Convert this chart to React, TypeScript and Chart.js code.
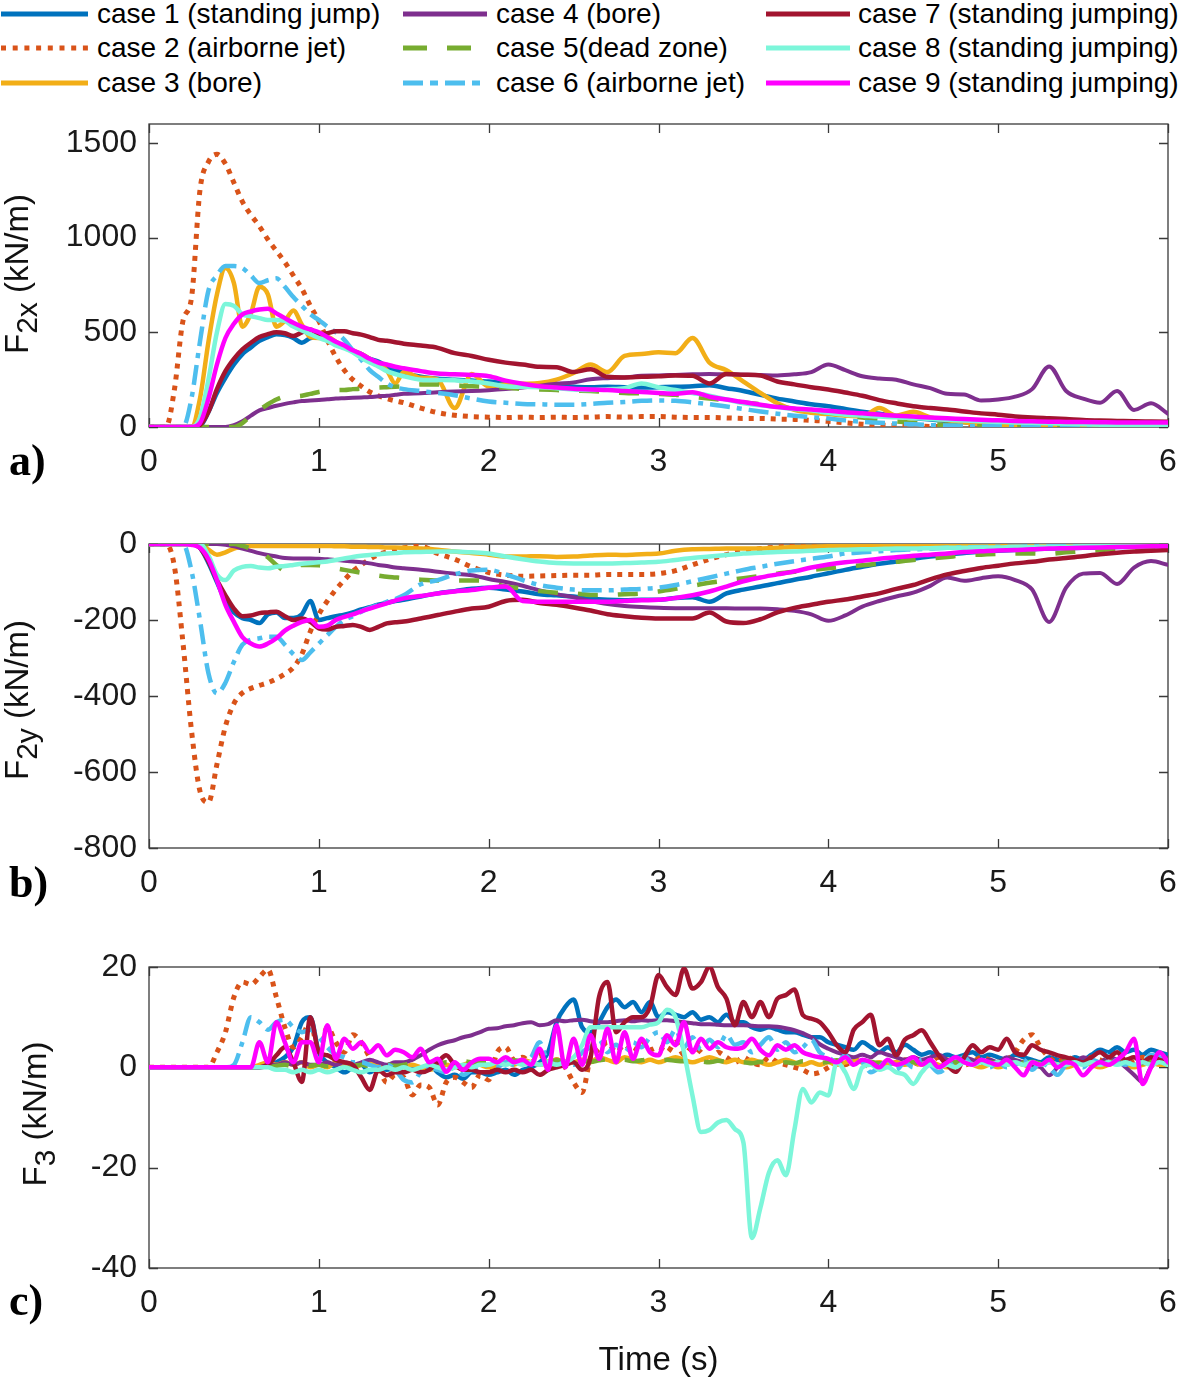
import React, { useEffect, useRef } from "react";
import { Chart, registerables } from "chart.js";
Chart.register(...registerables);

// ---------------- DATA ----------------
const caseLabels = [
  "case 1 (standing jump)",
  "case 2 (airborne jet)",
  "case 3 (bore)",
  "case 4 (bore)",
  "case 5(dead zone)",
  "case 6 (airborne jet)",
  "case 7 (standing jumping)",
  "case 8 (standing jumping)",
  "case 9 (standing jumping)",
];
const caseColors = ["#0072BD", "#D95319", "#F2AE17", "#7E2F8E", "#77AC30", "#4DBEEE", "#A2142F", "#7CF6DA", "#FF00FF"];

const xTicks = [0, 1, 2, 3, 4, 5, 6];
const yTicksA = [0, 500, 1000, 1500];
const yTicksB = [-800, -600, -400, -200, 0];
const yTicksC = [-40, -20, 0, 20];

// time axis for panels a) and b)
const timeAB = [0,0.05,0.1,0.15,0.2,0.25,0.3,0.35,0.4,0.45,0.5,0.55,0.6,0.65,0.7,0.75,0.8,0.85,0.9,0.95,1,1.05,1.1,1.15,1.2,1.25,1.3,1.35,1.4,1.45,1.5,
  1.6,1.7,1.8,1.9,2,2.1,2.2,2.3,2.4,2.5,2.6,2.7,2.8,2.9,3,3.1,3.2,3.3,3.4,3.5,3.6,3.7,3.8,3.9,4,4.1,4.2,4.3,4.4,4.5,4.6,4.7,4.8,4.9,5,5.1,5.2,5.3,5.4,5.5,5.6,5.7,5.8,5.9,6];

// time axis for panel c)
const timeC = [0,0.05,0.1,0.15,0.2,0.25,0.3,0.35,0.4,0.45,0.5,0.55,0.6,0.65,0.7,0.75,0.8,0.85,0.9,0.95,
  1,1.05,1.1,1.15,1.2,1.25,1.3,1.35,1.4,1.45,1.5,1.55,1.6,1.65,1.7,1.75,1.8,1.85,1.9,1.95,
  2,2.05,2.1,2.15,2.2,2.25,2.3,2.35,2.4,2.45,2.5,2.55,2.6,2.65,2.7,2.75,2.8,2.85,2.9,2.95,
  3,3.05,3.1,3.15,3.2,3.25,3.3,3.35,3.4,3.45,3.5,3.55,3.6,3.65,3.7,3.75,3.8,3.85,3.9,3.95,
  4,4.05,4.1,4.15,4.2,4.25,4.3,4.35,4.4,4.45,4.5,4.55,4.6,4.65,4.7,4.75,4.8,4.85,4.9,4.95,
  5,5.05,5.1,5.15,5.2,5.25,5.3,5.35,5.4,5.45,5.5,5.55,5.6,5.65,5.7,5.75,5.8,5.85,5.9,5.95,6];

// a) F2x (kN/m)
const f2x_case1 = [0,0,0,0,0,0,5,80,180,260, 330,385,420,455,475,490,485,470,445,470, 475,460,435,420,400,385,360,345,320,300, 285,
  265,255,250,245,240, 232,225,220,215,212,210,212,210,208,210, 212,215,220,205,190,170,150,135,120,110, 95,80,70,58,48,40,32,25,20,15, 12,10,8,6,5,4,3,3,2,2];
const f2x_case2 = [0,0,0,200,560,680,1250,1400,1440,1390, 1290,1190,1120,1060,990,930,870,800,730,640, 560,460,370,300,250,215,185,165,150,138, 128,
  100,76,62,55,52, 50,52,50,52,50,52,55,52,55,55, 52,50,50,48,45,45,42,40,35,30, 22,15,10,8,5,3,2,2,1,0, 0,0,0,0,0,0,0,0,0,0];
const f2x_case3 = [0,0,0,0,0,0,150,450,700,840, 760,530,600,740,700,530,560,615,540,475, 470,475,450,425,405,385,360,330,300,230, 290,
  260,250,100,280,215, 225,228,232,250,285,330,290,375,385,395, 390,470,340,300,240,180,125,90,75,68, 60,55,100,60,80,50,35,25,15,10, 8,6,5,4,4,3,3,2,2,2];
const f2x_case4 = [0,0,0,0,0,0,0,0,0,0, 10,30,60,88,100,112,122,130,137,140, 143,146,150,152,154,156,158,162,165,170, 175,
  178,184,188,190,194, 200,208,218,228,235,252,258,262,270,272, 275,278,280,278,276,274,272,278,290,330, 300,268,256,250,225,205,175,172,140,145, 160,200,320,190,150,128,190,90,125,70];
const f2x_case5 = [0,0,0,0,0,0,0,0,0,0, 0,20,60,90,120,145,160,162,165,175, 185,192,195,195,200,202,205,208,210,212, 215,
  225,225,220,215,212, 208,200,198,195,192,190,185,180,178,175, 170,160,150,140,130,120,110,95,85,75, 62,50,40,30,22,15,10,6,4,2, 1,1,1,1,0,0,0,0,0,0];
const f2x_case6 = [0,0,0,0,0,150,450,720,800,850, 850,840,800,760,775,785,740,686,640,595, 565,530,500,460,405,355,300,265,230,210, 200,
  190,180,168,150,135, 128,122,120,118,118,122,128,132,138,140, 138,130,120,108,95,82,70,60,52,45, 35,28,22,18,14,10,8,6,5,4, 3,3,2,2,2,1,1,1,1,0];
const f2x_case7 = [0,0,0,0,0,0,10,80,200,295, 360,410,445,475,490,500,495,480,500,515, 490,495,505,505,495,488,475,460,455,448, 440,
  430,418,390,375,355, 340,330,318,316,290,305,265,262,265,268, 272,270,230,280,276,272,240,225,210,198, 182,165,142,125,110,100,92,82,72,65, 56,50,46,42,37,34,32,30,29,28];
const f2x_case8 = [0,0,0,0,0,0,50,250,500,650, 640,595,585,575,565,565,560,530,510,490, 470,455,430,415,395,365,340,320,295,280, 268,
  250,248,247,240,230, 215,212,210,205,198,195,200,205,230,210, 195,180,165,145,125,115,105,95,88,75, 65,60,55,52,48,42,38,34,30,27, 24,22,20,17,15,12,10,8,6,5];
const f2x_case9 = [0,0,0,0,0,0,20,150,330,470, 545,595,610,620,625,600,575,550,530,515, 500,475,450,430,405,385,360,340,330,318, 310,
  295,282,278,275,268, 245,228,215,208,202,198,195,190,185,180, 176,184,160,145,132,118,106,98,92,86, 78,72,66,60,55,50,46,42,38,35, 32,30,28,27,26,25,24,24,24,24];

// b) F2y (kN/m)
const f2y_case1 = [0,0,0,0,0,0,-10,-50,-100,-150, -180,-195,-200,-208,-185,-180,-195,-195,-185,-150, -200,-195,-190,-186,-180,-172,-166,-160,-155,-150, -147,
  -138,-130,-124,-118,-115, -120,-125,-132,-135,-138,-144,-147,-148,-147,-147, -142,-140,-152,-130,-120,-112,-103,-94,-86,-77, -68,-60,-52,-46,-39,-33,-28,-24,-20,-18, -16,-14,-12,-11,-10,-9,-8,-7,-6,-5];
const f2y_case2 = [0,0,0,-60,-260,-490,-650,-680,-580,-480, -420,-392,-380,-372,-365,-355,-342,-325,-290,-230, -185,-150,-120,-95,-72,-55,-40,-28,-20,-14, -10,
  -6,-25,-40,-60,-75, -82,-85,-84,-83,-82,-82,-80,-80,-80,-78, -70,-55,-40,-28,-18,-12,-8,-5,-3,-2, -2,-1,-1,-1,0,0,0,0,0,0, 0,0,0,0,0,0,0,0,0,0];
const f2y_case3 = [0,0,0,0,0,0,0,-15,-28,-22, -12,-8,-5,-5,-5,-5,-5,-5,-5,-5, -5,-5,-6,-6,-7,-7,-8,-8,-9,-9, -10,
  -12,-15,-20,-24,-28, -33,-33,-32,-34,-33,-30,-28,-29,-27,-25, -18,-14,-13,-12,-12,-12,-10,-8,-7,-6, -5,-5,-4,-4,-3,-3,-3,-2,-2,-2, -2,-2,-1,-1,-1,-1,-1,-1,-1,-1];
const f2y_case4 = [0,0,0,0,0,0,0,0,0,-2, -6,-12,-18,-24,-29,-33,-37,-38,-38,-38, -39,-40,-42,-44,-46,-48,-51,-55,-58,-62, -64,
  -68,-73,-78,-82,-92, -100,-110,-122,-132,-140,-150,-158,-163,-166,-168, -169,-169,-169,-169,-170,-170,-172,-176,-185,-202, -188,-165,-150,-138,-128,-110,-88,-97,-90,-85, -95,-120,-205,-115,-78,-76,-105,-62,-45,-55];
const f2y_case5 = [0,0,0,0,0,0,0,0,0,0, 0,-5,-12,-20,-35,-55,-70,-65,-55,-55, -56,-60,-64,-68,-72,-76,-80,-83,-86,-88, -90,
  -94,-96,-96,-96,-99, -112,-117,-124,-128,-130,-134,-134,-132,-130,-125, -118,-110,-102,-96,-90,-84,-78,-73,-68,-64, -60,-56,-52,-47,-42,-38,-34,-30,-28,-26, -25,-25,-26,-22,-19,-16,-13,-10,-8,-6];
const f2y_case6 = [0,0,0,0,0,-70,-200,-340,-393,-365, -310,-265,-252,-248,-244,-244,-265,-290,-305,-285, -262,-240,-218,-200,-190,-178,-168,-160,-152,-145, -135,
  -106,-95,-80,-70,-68, -80,-95,-108,-115,-120,-122,-122,-120,-118,-115, -108,-98,-88,-78,-68,-60,-52,-45,-39,-33, -25,-22,-19,-16,-14,-12,-10,-9,-8,-7, -7,-6,-6,-5,-5,-4,-4,-4,-3,-3];
const f2y_case7 = [0,0,0,0,0,0,-10,-45,-95,-135, -170,-190,-188,-182,-180,-178,-190,-200,-196,-205, -222,-225,-218,-216,-213,-218,-226,-218,-209,-206, -204,
  -196,-187,-178,-170,-165, -150,-147,-155,-160,-167,-175,-185,-190,-194,-196, -196,-196,-180,-204,-208,-198,-180,-168,-160,-152, -146,-138,-130,-118,-108,-93,-80,-71,-63,-57, -51,-47,-41,-37,-32,-27,-23,-20,-18,-16];
const f2y_case8 = [0,0,0,0,0,0,0,-30,-80,-95, -70,-60,-58,-62,-64,-60,-58,-55,-52,-50, -48,-46,-42,-38,-34,-31,-29,-27,-25,-24, -22,
  -21,-20,-20,-22,-25, -33,-40,-46,-50,-51,-51,-51,-50,-49,-47, -42,-37,-33,-29,-25,-23,-21,-20,-18,-16, -15,-14,-13,-12,-12,-11,-10,-10,-9,-9, -8,-8,-7,-7,-6,-6,-5,-5,-4,-3];
const f2y_case9 = [0,0,0,0,0,-2,-10,-40,-95,-160, -205,-245,-262,-270,-262,-248,-228,-215,-205,-200, -218,-215,-200,-192,-185,-177,-170,-163,-156,-149, -143,
  -137,-130,-125,-121,-115, -112,-150,-152,-152,-152,-152,-152,-150,-148,-147, -142,-135,-125,-112,-98,-88,-80,-72,-62,-54, -48,-44,-39,-35,-31,-28,-25,-21,-19,-17, -16,-14,-12,-11,-10,-9,-8,-7,-6,-5];

// c) F3 (kN/m)
const f3_case1 = [0,0,0,0,0,0,0,0,0,0, 0,0,0,0,0.5,1,2,4,9,10, 3,1,0,-1,0,0.5,-1,0,-0.5,0, -1,0,-0.5,0.5,-1,-2,-1.5,-2.3,-1,-1,
  -1.5,-1,-0.5,-1.5,-0.5,0,1,3,9,12, 13.5,8,7,9,12,13.5,12,13,11,13, 10,11,10.5,10,11,9.5,10,9,10.5,9, 9,8,7.5,8,7.5,7,7,6.5,6,6,
  5,4.5,4,3.5,5,4,3,4,3,4.5, 3.5,2.5,3,2,2.5,2,2.5,3,2,2.5, 2,1.5,2.5,2,1.5,1,2,1.5,1,2, 1.5,2.5,3.5,3,4,3,3.5,2.5,3.5,3, 2.5];
const f3_case2 = [0,0,0,0,0,0,0,0,3,7, 14,17,16.5,18,19.5,14,8,4,6,9, 3,8,5,3,6.5,5,2,0,-3,-1.5, -2,-5.5,-3.5,-4,-7.5,-3,-2,-3,-4,-1.5,
  -2.5,3,4,1.5,2,1,2.5,0.5,1.5,0, -3,-5,2,3.5,5,3,4.5,3,5,3.5, 4,3,5,2.5,4,3,0.7,3,2,1, 2,1,0.5,2,1,0.5,0,-0.5,-1.3,-1,
  0,1,0.5,1.5,1,0,1,0.5,1,1.5, 1,0.5,1,2,1.5,1,0.5,1,2,1.5, 1,1.5,3,5.5,6.5,4,2,1,2,1.5, 1,2,1.5,1,2,1.5,1,2,1.5,1, 1];
const f3_case3 = [0,0,0,0,0,0,0,0,0,0, 0,0,0,0.5,1,0.5,1,0.5,1,0, 0.5,0,1,0.5,0,0.5,1,0.5,0,0.5, 0,0.5,0,-0.5,0,0.5,0,0.5,1,0.5,
  0,0.5,1,0.5,1.5,1,0.5,1,1.5,1, 1,1.5,1,2,1.5,1,2,1.5,1,1.5, 1,1.5,2,1.5,1,1.5,2,1.5,1,1.5, 1,1.5,1,0.5,1,1.5,1,0.5,1,0.5,
  1,0.5,1,1.5,1,0.5,1,0.5,1,0.5, 1,0.5,1,0.5,0,0.5,1,0.5,0,0.5, 0,0.5,1,0.5,0,0.5,1,0.5,0,0.5, 1,0.5,0,0.5,1,0.5,0,0.5,1,0.5, 0.5];
const f3_case4 = [0,0,0,0,0,0,0,0,0,0, 0,0,0,0,0.5,0.5,1,0.5,1,0.5, 0.5,1,0.5,1,0.5,1,1.5,1,0.5,1, 1,1.5,2.4,3.5,4.4,5,5.4,6,6.4,7,
  7.7,7.8,8.2,8.4,8.8,9,8.4,8.6,9.4,9.2, 9.4,9.5,9.2,9,9,9.2,9.4,9.2,9.4,9.3, 9.4,9.4,9.2,9,8.8,8.6,8.6,8.5,8.4,8.4, 8.4,8.3,8.2,8.2,8.1,7.8,7.4,6.8,6,4.6,
  3.7,3,2.5,2,2.5,2,3,2.5,2,1.5, 2,1.5,2,2.5,1.5,1,2,1.5,1,1.5, 1,2,1.5,1,0.5,0,-1.6,0,1.5,1, 2,1.5,1,2,1.5,0,-1.5,-2.9,0,1.5, 2];
const f3_case5 = [0,0,0,0,0,0,0,0,0,0, 0,0,0,0,0,0.3,0.5,0.2,0.5,0.3, 0.5,0.2,0.4,0.6,0.3,0.5,0.2,0.4,0.6,0.3, 0.5,0.8,0.5,1,0.7,1,0.8,1.2,1,0.8,
  1,1.2,1,1.4,1.2,1,1.3,1.1,1.4,1.2, 1,1.3,1.1,1.4,1.6,1.3,1.5,1.2,1.4,1.6, 1.4,1.5,1.3,1.2,1.5,1.2,1,1.3,1.1,0.9, 1,0.8,1.1,0.9,0.7,1,0.8,1.2,1,0.9,
  1.1,1.4,1.2,1,1.3,1.1,0.8,1,1.2,0.9, 1,0.8,1.1,0.9,0.7,1,0.8,1.1,0.9,1, 0.8,1,1.2,0.9,1.1,0.8,1,0.9,1.2,1, 0.9,1.1,0.8,1,1.2,0.9,1,0.8,1.1,0.9, 1];
const f3_case6 = [0,0,0,0,0,0,0,0,0,0, 0.5,5,10,9,7.5,9,9.5,8,7,7.5, 6,4,2.5,2,1,1,0.5,0,0.5,-0.5, -2.5,-3,-1,0,-0.5,-1,0,-1.5,-0.5,0,
  0.5,0,1,0.5,1,2,5,1,0.5,1, 0.5,3,4,5.5,3,4.5,3,5,4,6, 7,5,7.5,4,6,3.5,5.5,4,6.5,4.5, 5,3,4.5,6,3.5,5,3,4,5.5,3,
  2,1,2.4,0.5,1,-1,0,1.5,-0.5,1, 0,1.5,0.5,-1,0,1,2,0.5,1.5,0, 1,0,0.5,1.5,-0.5,1,0,-1.5,0.5,1, 0,1.5,1,2.5,1,0.5,2,1,2.5,2, 1.5];
const f3_case7 = [0,0,0,0,0,0,0,0,0,0, 0,0,0,0,0.5,2.4,4,1,-2.9,10, 3,2.4,1.5,1,0.5,-2,-4.5,-0.5,-1.6,-1, -1,-0.5,-1,-0.5,1,2.4,0.5,-0.5,-0.5,-1,
  -1,-0.5,-1,-0.5,-1,-0.5,-1.5,-0.5,0,0.5, 1,-0.5,2,14,17,7,9,10,10,12, 18.4,16,14.4,19.7,15.7,17,20,16,13.7,8.4, 13,10,13,10,13.7,14.4,15.5,10.4,9.7,9,
  7,4.4,3,7.5,9,10.5,4.4,5.7,2.4,5.5, 6.4,7.4,5,2.4,0.5,-0.9,2,4.4,3,4, 3.5,5.7,3,2.5,4.4,3.5,3,2.4,2,1.5, 1,2,3,2,3,1.5,2,1,2,1.5, 1];
const f3_case8 = [0,0,0,0,0,0,0,0,0,0, 0,0,0,0,0,-0.5,-0.5,-1,-0.5,-1, -0.5,-1,-0.5,0,-0.5,-1,-0.5,-0.5,0,-0.5, 0,-0.5,0,0.5,0,-0.5,0,0.5,0,0.5,
  0.5,1,0.5,1,0.5,1,0.5,1,0.5,1, 2,4.4,8,8,8,8,8,8,8,8.5, 9,11.5,10,3,-5.6,-12.9,-12.5,-11,-10.5,-12.3, -15,-34,-28,-21,-18.5,-21.5,-12.5,-4.3,-7,-5,
  -5.6,1,-1,-4.3,0,0.5,-0.5,0,-1,-1.5, -3.3,-1,0.5,0,0.5,0,1,0.5,1,0.5, 1,0.5,1,0.5,1,0.5,1,0.5,0.5,1, 0.5,1,0.5,1,0.5,1,0.5,1,0.5,1, 0.5];
const f3_case9 = [0,0,0,0,0,0,0,0,0,0, 0,0,0,5,1,9,5,1,5,5, 1,8.4,1.7,5.7,3.7,5,3,4.4,2.4,3.5, 3,2,3.7,1,1.7,-0.9,1,-0.5,1,1.7,
  1.7,1,2,1,1.5,0.5,3.7,-0.5,8.4,0, 5.7,0.5,6.4,1.7,7.7,1,7,1.7,5.7,3, 2.4,6.4,4.4,9,3,5.7,3.7,5,4,3.7, 4,5.7,3.5,2.4,4.4,3.5,4.4,3,2.4,2,
  1.7,1,2,0.5,1.5,1,0,1.5,0.5,1, 2,0.5,1.5,0,1,2,1,0.5,1.5,1, 0.5,1.5,0,-1.6,1,0.5,1.5,0,1,0.5, -1.6,0,1,0.5,1.5,3,5.7,-3.3,0,3, 1];

// ---------------- STYLE ----------------
const FONT = "'Liberation Sans', Arial, Helvetica, sans-serif";
const SERIF = "'Liberation Serif', 'Times New Roman', serif";
const caseDash: number[][] = [[], [5, 6], [], [], [20, 20], [20, 7, 5, 7], [], [], []];
const caseWidth = [4.5, 5, 4.5, 4, 4.5, 4.5, 4.5, 4.5, 4.5];
const legendDash = ["", "5 6.7", "", "", "24 20", "20 7 8 7", "", "", ""];

type Spec = {
  times: number[];
  series: number[][];
  yMin: number;
  yMax: number;
  yTicks: number[];
  top: number;
  height: number;
  padTop: number;
  xAxisH: number;
  sub: string;
  labelX: number;
  labelCY: number;
  letter: string;
  letterCY: number;
  showTime: boolean;
};

function makePlugin(spec: Spec) {
  return {
    id: "frameDeco",
    beforeDatasetsDraw(chart: any) {
      const { ctx, chartArea: a, scales } = chart;
      ctx.save();
      ctx.strokeStyle = "#3a3a3a";
      ctx.lineWidth = 1.3;
      ctx.strokeRect(a.left, a.top, a.right - a.left, a.bottom - a.top);
      const tl = 9;
      ctx.beginPath();
      scales.x.ticks.forEach((t: any) => {
        const p = Math.round(scales.x.getPixelForValue(t.value)) + 0.5;
        ctx.moveTo(p, a.bottom);
        ctx.lineTo(p, a.bottom - tl);
        ctx.moveTo(p, a.top);
        ctx.lineTo(p, a.top + tl);
      });
      scales.y.ticks.forEach((t: any) => {
        const p = Math.round(scales.y.getPixelForValue(t.value)) + 0.5;
        ctx.moveTo(a.left, p);
        ctx.lineTo(a.left + tl, p);
        ctx.moveTo(a.right, p);
        ctx.lineTo(a.right - tl, p);
      });
      ctx.stroke();
      ctx.restore();
    },
    afterDraw(chart: any) {
      const { ctx, chartArea: a } = chart;
      ctx.save();
      const mainF = `33px ${FONT}`;
      const subF = `30px ${FONT}`;
      ctx.font = mainF;
      const wF = ctx.measureText("F").width;
      const wRest = ctx.measureText(" (kN/m)").width;
      ctx.font = subF;
      const wSub = ctx.measureText(spec.sub).width;
      const total = wF + wSub + wRest;
      const cy = spec.labelCY - spec.top;
      ctx.translate(spec.labelX, cy);
      ctx.rotate(-Math.PI / 2);
      ctx.fillStyle = "#111";
      ctx.textBaseline = "alphabetic";
      ctx.textAlign = "left";
      let x = -total / 2;
      ctx.font = mainF;
      ctx.fillText("F", x, 0);
      x += wF;
      ctx.font = subF;
      ctx.fillText(spec.sub, x, 9);
      x += wSub;
      ctx.font = mainF;
      ctx.fillText(" (kN/m)", x, 0);
      ctx.restore();

      ctx.save();
      ctx.fillStyle = "#000";
      ctx.font = `bold 44px ${SERIF}`;
      ctx.textBaseline = "middle";
      ctx.textAlign = "left";
      ctx.fillText(spec.letter, 9, spec.letterCY - spec.top);
      if (spec.showTime) {
        ctx.font = `33px ${FONT}`;
        ctx.textAlign = "center";
        ctx.fillStyle = "#111";
        ctx.fillText("Time (s)", (a.left + a.right) / 2, 1361 - spec.top);
      }
      ctx.restore();
    },
  };
}

function Panel({ spec }: { spec: Spec }) {
  const ref = useRef<HTMLCanvasElement>(null);
  useEffect(() => {
    const canvas = ref.current;
    if (!canvas) return;
    const datasets = spec.series.map((arr, i) => ({
      label: caseLabels[i],
      data: spec.times.slice(0, arr.length).map((t, j) => ({ x: t, y: arr[j] })),
      borderColor: caseColors[i],
      backgroundColor: caseColors[i],
      borderWidth: caseWidth[i],
      borderDash: caseDash[i],
      borderCapStyle: caseDash[i].length ? "butt" : "round",
      borderJoinStyle: "round",
      pointRadius: 0,
      fill: false,
      cubicInterpolationMode: "monotone",
      order: 8 - i,
    }));
    const tickFont = { family: FONT, size: 32 };
    const chart = new Chart(canvas, {
      type: "line",
      data: { datasets } as any,
      options: {
        responsive: false,
        animation: false,
        devicePixelRatio: 1,
        events: [],
        layout: { padding: { top: spec.padTop, right: 12, left: 0, bottom: 0 } },
        plugins: { legend: { display: false }, tooltip: { enabled: false } },
        scales: {
          x: {
            type: "linear",
            min: xTicks[0],
            max: xTicks[xTicks.length - 1],
            afterBuildTicks: (s: any) => {
              s.ticks = xTicks.map((v) => ({ value: v }));
            },
            ticks: {
              font: tickFont,
              color: "#1a1a1a",
              padding: 16,
              maxRotation: 0,
              autoSkip: false,
              callback: (v: any) => String(v),
            },
            grid: { display: false, drawTicks: false },
            border: { display: false },
            afterFit: (s: any) => {
              s.height = spec.xAxisH;
              s.paddingLeft = 0;
              s.paddingRight = 0;
            },
          },
          y: {
            type: "linear",
            min: spec.yMin,
            max: spec.yMax,
            afterBuildTicks: (s: any) => {
              s.ticks = spec.yTicks.map((v) => ({ value: v }));
            },
            ticks: {
              font: tickFont,
              color: "#1a1a1a",
              padding: 12,
              autoSkip: false,
              callback: (v: any) => String(v),
            },
            grid: { display: false, drawTicks: false },
            border: { display: false },
            afterFit: (s: any) => {
              s.width = 149;
              s.paddingTop = 0;
              s.paddingBottom = 0;
            },
          },
        },
      } as any,
      plugins: [makePlugin(spec)],
    });
    return () => chart.destroy();
  }, [spec]);
  return (
    <canvas
      ref={ref}
      width={1180}
      height={spec.height}
      style={{ position: "absolute", left: 0, top: spec.top, width: 1180, height: spec.height }}
    />
  );
}

const specA: Spec = {
  times: timeAB,
  series: [f2x_case1, f2x_case2, f2x_case3, f2x_case4, f2x_case5, f2x_case6, f2x_case7, f2x_case8, f2x_case9],
  yMin: 0, yMax: 1600, yTicks: yTicksA,
  top: 100, height: 400, padTop: 24, xAxisH: 73,
  sub: "2x", labelX: 28, labelCY: 274, letter: "a)", letterCY: 464, showTime: false,
};
const specB: Spec = {
  times: timeAB,
  series: [f2y_case1, f2y_case2, f2y_case3, f2y_case4, f2y_case5, f2y_case6, f2y_case7, f2y_case8, f2y_case9],
  yMin: -800, yMax: 0, yTicks: yTicksB,
  top: 520, height: 400, padTop: 24, xAxisH: 72,
  sub: "2y", labelX: 28, labelCY: 700, letter: "b)", letterCY: 886, showTime: false,
};
const specC: Spec = {
  times: timeC,
  series: [f3_case1, f3_case2, f3_case3, f3_case4, f3_case5, f3_case6, f3_case7, f3_case8, f3_case9],
  yMin: -40, yMax: 20, yTicks: yTicksC,
  top: 940, height: 442, padTop: 27, xAxisH: 114,
  sub: "3", labelX: 46, labelCY: 1114, letter: "c)", letterCY: 1304, showTime: true,
};

const legendCols = [
  { lineX: 1, lineW: 87, textX: 97 },
  { lineX: 403, lineW: 84, textX: 496 },
  { lineX: 766, lineW: 84, textX: 858 },
];
const legendRows = [14, 48, 83];

function Legend() {
  return (
    <>
      {caseLabels.map((lab, i) => {
        const col = legendCols[Math.floor(i / 3)];
        const cy = legendRows[i % 3];
        return (
          <React.Fragment key={lab}>
            <svg
              width={col.lineW}
              height={12}
              style={{ position: "absolute", left: col.lineX, top: cy - 6 }}
            >
              <line
                x1={0}
                y1={6}
                x2={col.lineW}
                y2={6}
                stroke={caseColors[i]}
                strokeWidth={5}
                strokeDasharray={legendDash[i] || undefined}
              />
            </svg>
            <div
              style={{
                position: "absolute",
                left: col.textX,
                top: cy - 17,
                height: 34,
                lineHeight: "34px",
                fontFamily: FONT,
                fontSize: 28,
                color: "#000",
                whiteSpace: "nowrap",
              }}
            >
              {lab}
            </div>
          </React.Fragment>
        );
      })}
    </>
  );
}

export default function App() {
  return (
    <div style={{ position: "absolute", left: 0, top: 0, width: 1180, height: 1382, background: "#fff", overflow: "hidden" }}>
      <Legend />
      <Panel spec={specA} />
      <Panel spec={specB} />
      <Panel spec={specC} />
    </div>
  );
}
